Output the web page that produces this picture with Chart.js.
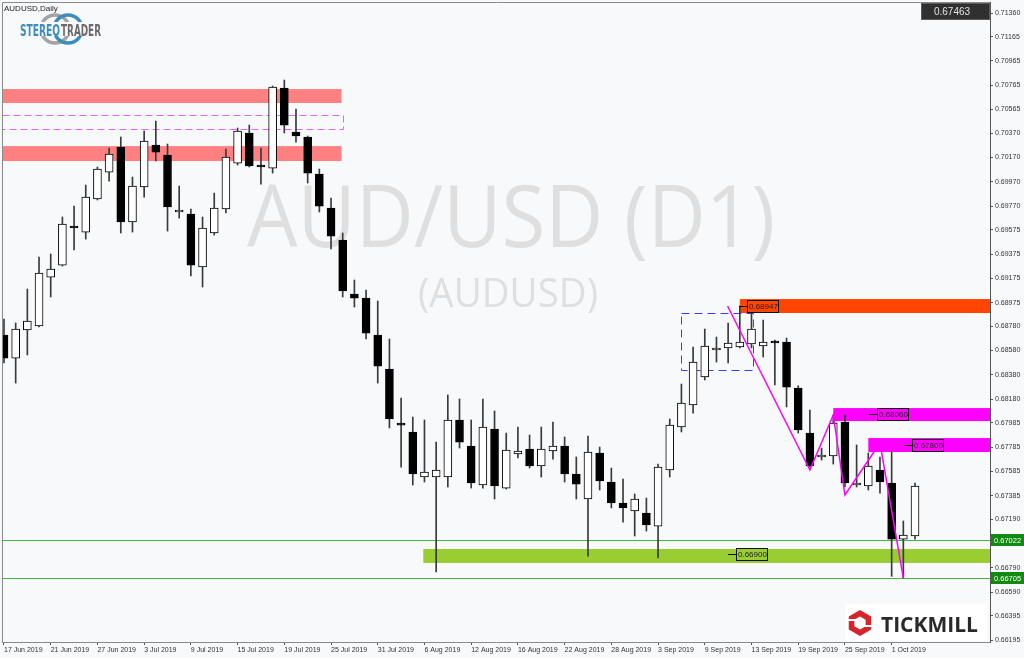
<!DOCTYPE html>
<html>
<head>
<meta charset="utf-8">
<title>AUDUSD Daily</title>
<script src="https://cdn.jsdelivr.net/npm/chart.js@4.4.1/dist/chart.umd.min.js"></script>
<style>
  html, body { margin: 0; padding: 0; background: #f8f9fb; }
  #box { width: 1024px; height: 658px; }
</style>
</head>
<body>
<div id="box"><canvas id="chart" width="1024" height="658"></canvas></div>
<script>
// time axis labels, one every 4 sessions
const dateLabels = ['17 Jun 2019', '21 Jun 2019', '27 Jun 2019', '3 Jul 2019', '9 Jul 2019',
  '15 Jul 2019', '19 Jul 2019', '25 Jul 2019', '31 Jul 2019', '6 Aug 2019', '12 Aug 2019',
  '16 Aug 2019', '22 Aug 2019', '28 Aug 2019', '3 Sep 2019', '9 Sep 2019', '13 Sep 2019',
  '19 Sep 2019', '25 Sep 2019', '1 Oct 2019'];
const tickStep = 4;

// daily candles, 17 Jun 2019 .. 3 Oct 2019
const opens = [0.68708, 0.68518, 0.68749, 0.68782, 0.69185, 0.69284, 0.69597, 0.69556, 0.69828, 0.70050,
  0.70256, 0.69639, 0.69927, 0.70273, 0.70190, 0.69721, 0.69704, 0.69268, 0.69548, 0.69746,
  0.70124, 0.70372, 0.70108, 0.70083, 0.70742, 0.70380, 0.70339, 0.70034, 0.69754, 0.69490,
  0.69045, 0.69012, 0.68708, 0.68428, 0.67975, 0.67909, 0.67538, 0.67538, 0.67538, 0.68008,
  0.67793, 0.67472, 0.67933, 0.67447, 0.67728, 0.67769, 0.67629, 0.67752, 0.67793, 0.67563,
  0.67357, 0.67736, 0.67497, 0.67324, 0.67258, 0.67242, 0.67134, 0.67596, 0.67950, 0.68131,
  0.68362, 0.68584, 0.68601, 0.68609, 0.68634, 0.68617, 0.68650, 0.68650, 0.68271, 0.67900,
  0.67703, 0.67711, 0.67991, 0.67472, 0.67464, 0.67596, 0.67489, 0.67027, 0.67052];
const highs = [0.68840, 0.68807, 0.69087, 0.69350, 0.69375, 0.69680, 0.69770, 0.69943, 0.70092, 0.70248,
  0.70339, 0.70009, 0.70388, 0.70470, 0.70281, 0.69935, 0.69746, 0.69680, 0.69877, 0.70240,
  0.70413, 0.70437, 0.70248, 0.70759, 0.70808, 0.70569, 0.70347, 0.70075, 0.69836, 0.69548,
  0.69161, 0.69078, 0.68988, 0.68675, 0.68189, 0.68032, 0.68008, 0.67826, 0.68214, 0.68181,
  0.68008, 0.68181, 0.68082, 0.67900, 0.67950, 0.67884, 0.67950, 0.67991, 0.67868, 0.67703,
  0.67876, 0.67785, 0.67612, 0.67522, 0.67398, 0.67365, 0.67645, 0.68016, 0.68304, 0.68609,
  0.68757, 0.68691, 0.68807, 0.68947, 0.68889, 0.68831, 0.68667, 0.68683, 0.68290, 0.68090,
  0.67777, 0.68049, 0.68049, 0.67802, 0.67736, 0.67703, 0.67744, 0.67176, 0.67489];
const lows = [0.68477, 0.68312, 0.68543, 0.68774, 0.69021, 0.69276, 0.69408, 0.69498, 0.69820, 0.69976,
  0.69548, 0.69556, 0.69844, 0.70141, 0.69564, 0.69671, 0.69194, 0.69103, 0.69531, 0.69713,
  0.70108, 0.70092, 0.69951, 0.70042, 0.70372, 0.70297, 0.69960, 0.69721, 0.69416, 0.69021,
  0.68938, 0.68675, 0.68312, 0.67942, 0.67620, 0.67472, 0.67497, 0.66756, 0.67456, 0.67777,
  0.67447, 0.67447, 0.67357, 0.67439, 0.67695, 0.67612, 0.67538, 0.67686, 0.67497, 0.67357,
  0.66887, 0.67431, 0.67283, 0.67167, 0.67052, 0.67093, 0.66871, 0.67538, 0.67909, 0.68065,
  0.68337, 0.68485, 0.68477, 0.68601, 0.68601, 0.68527, 0.68296, 0.68115, 0.67900, 0.67620,
  0.67678, 0.67645, 0.67456, 0.67456, 0.67431, 0.67406, 0.66720, 0.66705, 0.67027];
const closes = [0.68518, 0.68757, 0.68823, 0.69218, 0.69251, 0.69622, 0.69589, 0.69844, 0.70075, 0.70199,
  0.69639, 0.69935, 0.70306, 0.70215, 0.69762, 0.69729, 0.69284, 0.69589, 0.69754, 0.70174,
  0.70388, 0.70100, 0.70092, 0.70750, 0.70437, 0.70347, 0.70042, 0.69770, 0.69523, 0.69070,
  0.69012, 0.68724, 0.68452, 0.68016, 0.67966, 0.67563, 0.67579, 0.67596, 0.68008, 0.67826,
  0.67489, 0.67950, 0.67464, 0.67760, 0.67752, 0.67629, 0.67769, 0.67793, 0.67563, 0.67480,
  0.67744, 0.67505, 0.67324, 0.67283, 0.67357, 0.67143, 0.67620, 0.67966, 0.68148, 0.68485,
  0.68617, 0.68601, 0.68642, 0.68650, 0.68757, 0.68650, 0.68642, 0.68279, 0.67925, 0.67629,
  0.67719, 0.67983, 0.67489, 0.67480, 0.67629, 0.67497, 0.67027, 0.67060, 0.67463];

// price axis labels
const priceTicks = [0.71360, 0.71165, 0.70965, 0.70765, 0.70565, 0.70370, 0.70170, 0.69970, 0.69770,
  0.69575, 0.69375, 0.69175, 0.68975, 0.68780, 0.68580, 0.68380, 0.68180, 0.67985, 0.67785,
  0.67585, 0.67385, 0.67190, 0.66990, 0.66790, 0.66590, 0.66395, 0.66195];

// levels and zones drawn on the chart (bar index, price)
const lastPrice = 0.67463;
const redZones = [[0.70734, 0.70619], [0.70264, 0.70141]];
const redZoneEnd = 28.9;
const dashedZone = [0.70520, 0.70405];
const orangeZone = [63.0, 0.69004, 0.68889];
const blueBox = [58.0, 64.1, 0.68889, 0.68419];
const magentaZones = [[71.0, 0.68106, 0.67999], [74.0, 0.67859, 0.67744]];
const greenZone = [35.9, 0.66945, 0.66830];
const greenLines = [0.67022, 0.66705];
const levelTags = [[63.6, 0.68947], [74.75, 0.68060], [77.75, 0.67800], [62.7, 0.66900]];
const zigzagX = [61.95, 69.0, 71.0, 72.0, 75.0, 77.0];
const zigzagY = [0.68947, 0.67596, 0.68049, 0.67390, 0.67818, 0.66705];

const smallFont = '"Liberation Sans", Arial, sans-serif';

function watermark(ctx, text, size, x0, x1, base) {
  ctx.save();
  ctx.font = size + 'px "Open Sans"';
  const w = ctx.measureText(text).width;
  ctx.translate(x0, base);
  ctx.scale((x1 - x0) / w, 1);
  ctx.fillStyle = '#dfdfdf';
  ctx.textAlign = 'left';
  ctx.textBaseline = 'alphabetic';
  ctx.fillText(text, 0, 0);
  ctx.restore();
}

function band(ctx, y, xa, xb, top, bottom) {
  const t = y.getPixelForValue(top);
  const b = y.getPixelForValue(bottom);
  ctx.fillRect(xa, t, xb - xa, b - t);
}

function tag(ctx, px, py, text) {
  px = Math.round(px);
  py = Math.round(py);
  ctx.strokeStyle = '#111';
  ctx.lineWidth = 1;
  ctx.beginPath();
  ctx.moveTo(px - 8, py + 0.5);
  ctx.lineTo(px, py + 0.5);
  ctx.stroke();
  ctx.strokeRect(px + 0.5, py - 5.5, 31, 12);
  ctx.fillStyle = '#222';
  ctx.font = '8px ' + smallFont;
  ctx.textAlign = 'left';
  ctx.textBaseline = 'middle';
  ctx.fillText(text, px + 2, py + 1);
}

function stereoLogo(ctx) {
  ctx.save();
  ctx.lineWidth = 3.5;
  ctx.strokeStyle = '#a3a3a3';
  ctx.beginPath(); ctx.arc(55, 29, 14, 0, Math.PI * 2); ctx.stroke();
  ctx.strokeStyle = '#3b8dbd';
  ctx.beginPath(); ctx.arc(68, 29, 14, 0, Math.PI * 2); ctx.stroke();
  ctx.fillStyle = '#f8f9fb';
  ctx.fillRect(19, 22, 84, 14);
  ctx.font = 'bold 16px "DejaVu Sans Condensed", "DejaVu Sans"';
  ctx.textBaseline = 'alphabetic';
  ctx.textAlign = 'left';
  ctx.fillStyle = '#3b8dbd';
  ctx.fillText('STEREO', 20, 36, 40);
  ctx.fillStyle = '#6a6a6a';
  ctx.fillText('TRADER', 61, 36, 40);
  ctx.restore();
}

function tickmillLogo(ctx) {
  ctx.save();
  ctx.fillStyle = '#ffffff';
  ctx.fillRect(845, 604, 142, 37);
  const cx = 860, cy = 623;
  const hex = (r, rot) => {
    ctx.beginPath();
    for (let k = 0; k < 6; k++) {
      const t = rot + k * Math.PI / 3;
      ctx.lineTo(cx + r * Math.cos(t), cy + r * Math.sin(t));
    }
    ctx.closePath();
  };
  ctx.fillStyle = '#d5242c';
  hex(13, Math.PI / 6); ctx.fill();
  ctx.fillStyle = '#ffffff';
  hex(6.5, Math.PI / 6); ctx.fill();
  ctx.strokeStyle = '#ffffff';
  ctx.lineWidth = 2;
  ctx.beginPath();
  ctx.moveTo(cx - 13, cy - 3); ctx.lineTo(cx - 3, cy - 3);
  ctx.moveTo(cx + 13, cy + 3); ctx.lineTo(cx + 3, cy + 3);
  ctx.stroke();
  ctx.fillStyle = '#2a2a2a';
  ctx.font = 'bold 21px "Open Sans", "Liberation Sans"';
  ctx.textAlign = 'left';
  ctx.textBaseline = 'alphabetic';
  ctx.fillText('TICKMILL', 881, 632, 102);
  ctx.restore();
}

// keep the plot box flush with the canvas edges like the terminal screenshot
function noAxisPadding(s) {
  s.paddingTop = 0;
  s.paddingBottom = 0;
  s.paddingLeft = 0;
  s.paddingRight = 0;
}

const drawings = {
  id: 'drawings',
  beforeDatasetsDraw(chart) {
    const {ctx, chartArea: a, scales: {x, y}} = chart;
    ctx.save();
    ctx.beginPath();
    ctx.rect(a.left, a.top, a.right - a.left, a.bottom - a.top);
    ctx.clip();

    watermark(ctx, 'AUD/USD (D1)', 86, 247, 775, 247);
    watermark(ctx, '(AUDUSD)', 40, 418, 598, 307);

    ctx.fillStyle = '#ff8080';
    redZones.forEach(z => band(ctx, y, a.left, x.getPixelForValue(redZoneEnd), z[0], z[1]));

    ctx.fillStyle = '#ff4500';
    band(ctx, y, x.getPixelForValue(orangeZone[0]), a.right, orangeZone[1], orangeZone[2]);

    ctx.fillStyle = '#ff00ff';
    magentaZones.forEach(z => band(ctx, y, x.getPixelForValue(z[0]), a.right, z[1], z[2]));

    ctx.fillStyle = '#9acd32';
    band(ctx, y, x.getPixelForValue(greenZone[0]), a.right, greenZone[1], greenZone[2]);

    // dashed boxes
    ctx.lineWidth = 1;
    ctx.setLineDash([7, 4]);
    ctx.strokeStyle = '#e066f0';
    let t = Math.round(y.getPixelForValue(dashedZone[0])) + 0.5;
    let b = Math.round(y.getPixelForValue(dashedZone[1])) + 0.5;
    ctx.strokeRect(a.left + 0.5, t, Math.round(x.getPixelForValue(redZoneEnd + 0.1)) - a.left, b - t);

    ctx.strokeStyle = '#3c3cf5';
    ctx.setLineDash([8, 5]);
    const bx0 = Math.round(x.getPixelForValue(blueBox[0])) + 0.5;
    const bx1 = Math.round(x.getPixelForValue(blueBox[1])) + 0.5;
    t = Math.round(y.getPixelForValue(blueBox[2])) + 0.5;
    b = Math.round(y.getPixelForValue(blueBox[3])) + 0.5;
    ctx.strokeRect(bx0, t, bx1 - bx0, b - t);
    ctx.setLineDash([]);

    // horizontal support lines
    ctx.strokeStyle = '#46b446';
    greenLines.forEach(p => {
      const py = Math.round(y.getPixelForValue(p)) + 0.5;
      ctx.beginPath();
      ctx.moveTo(a.left, py);
      ctx.lineTo(a.right, py);
      ctx.stroke();
    });
    ctx.restore();
  },
  afterDatasetsDraw(chart) {
    const {ctx, scales: {x, y}} = chart;
    ctx.save();
    levelTags.forEach(l => tag(ctx, x.getPixelForValue(l[0]), y.getPixelForValue(l[1]), l[1].toFixed(5)));
    ctx.restore();
  },
  afterDraw(chart) {
    const {ctx, chartArea: a, scales: {y}} = chart;
    ctx.save();
    // frame
    ctx.strokeStyle = '#8a8a8a';
    ctx.lineWidth = 1;
    ctx.beginPath();
    ctx.moveTo(a.left + 0.5, a.bottom);
    ctx.lineTo(a.left + 0.5, a.top + 0.5);
    ctx.lineTo(a.right, a.top + 0.5);
    ctx.stroke();

    // axis tags for the green lines
    ctx.font = '7.5px ' + smallFont;
    ctx.textAlign = 'left';
    ctx.textBaseline = 'middle';
    greenLines.forEach(p => {
      const py = Math.round(y.getPixelForValue(p));
      ctx.fillStyle = '#128a12';
      ctx.fillRect(a.right + 1, py - 6, 34, 12);
      ctx.fillStyle = '#ffffff';
      ctx.fillText(p.toFixed(5), a.right + 4, py + 0.5);
    });

    // last price box
    ctx.fillStyle = '#303030';
    ctx.fillRect(921, 3, 69, 17);
    ctx.strokeStyle = '#5c5c5c';
    ctx.strokeRect(921.5, 3.5, 68, 16);
    ctx.fillStyle = '#e2e2e2';
    ctx.font = '10px ' + smallFont;
    ctx.textAlign = 'center';
    ctx.fillText(lastPrice.toFixed(5), 952, 12);

    ctx.fillStyle = '#222';
    ctx.font = '8px ' + smallFont;
    ctx.textAlign = 'left';
    ctx.textBaseline = 'alphabetic';
    ctx.fillText('AUDUSD,Daily', 4, 11);
    ctx.restore();

    stereoLogo(ctx);
    tickmillLogo(ctx);
  }
};

const bodyData = opens.map((o, i) => ({x: i, y: [o, closes[i]]}));
const wickData = lows.map((l, i) => ({x: i, y: [l, highs[i]]}));
const bodyFill = opens.map((o, i) => closes[i] >= o ? '#ffffff' : '#000000');

new Chart(document.getElementById('chart'), {
  type: 'bar',
  data: {
    datasets: [
      {
        type: 'line',
        data: zigzagX.map((v, i) => ({x: v, y: zigzagY[i]})),
        borderColor: '#ff00ff',
        borderWidth: 1.5,
        pointRadius: 0,
        tension: 0,
        order: 0
      },
      {
        data: bodyData,
        backgroundColor: bodyFill,
        borderColor: '#000000',
        borderWidth: 1,
        borderSkipped: false,
        barThickness: 8,
        minBarLength: 2,
        grouped: false,
        order: 1
      },
      {
        data: wickData,
        backgroundColor: '#3a3a3a',
        borderWidth: 0,
        barThickness: 1,
        grouped: false,
        order: 2
      }
    ]
  },
  options: {
    responsive: false,
    animation: false,
    layout: {padding: {left: 2, top: 2, right: 0, bottom: 0}},
    plugins: {legend: {display: false}, tooltip: {enabled: false}},
    scales: {
      x: {
        type: 'linear',
        min: -0.171,
        max: 84.42,
        offset: false,
        grid: {drawOnChartArea: false, drawTicks: true, tickLength: 3, color: '#555', offset: false},
        border: {color: '#8a8a8a'},
        ticks: {
          align: 'start', maxRotation: 0, autoSkip: false, padding: 1,
          font: {family: smallFont, size: 7}, color: '#333',
          callback: v => dateLabels[Math.round(v / tickStep)]
        },
        afterBuildTicks: s => { s.ticks = dateLabels.map((_, j) => ({value: j * tickStep})); },
        afterFit: s => { s.height = 16; noAxisPadding(s); }
      },
      y: {
        type: 'linear',
        position: 'right',
        min: 0.66179,
        max: 0.71451,
        grid: {drawOnChartArea: false, tickLength: 3, color: '#555'},
        border: {color: '#555'},
        ticks: {
          autoSkip: false, padding: 2,
          font: {family: smallFont, size: 7}, color: '#333',
          callback: v => v.toFixed(5)
        },
        afterBuildTicks: s => { s.ticks = priceTicks.map(v => ({value: v})); },
        afterFit: s => { s.width = 34; noAxisPadding(s); }
      }
    }
  },
  plugins: [drawings]
});
</script>
</body>
</html>
